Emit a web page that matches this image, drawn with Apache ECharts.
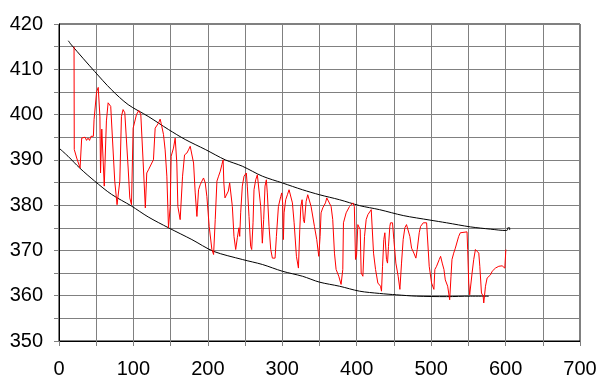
<!DOCTYPE html>
<html>
<head>
<meta charset="utf-8">
<script src="https://cdn.jsdelivr.net/npm/echarts@6/dist/echarts.min.js"></script>
<style>html,body{margin:0;padding:0;background:#fff}#c{width:604px;height:390px}</style>
</head>
<body>
<div id="c"></div>
<script>
// Red measured series
const redX = [20.2,20.5,23.8,28.3,30.5,33,35,37,39,41,43,46.2,47.1,50.5,52.7,55.0,55.8,57.5,58.3,60.8,63.7,66.0,68.2,69.5,74.9,78.0,79.0,81.7,83.9,86.1,88.4,92.9,95.1,97.4,99.6,104.1,107.2,109.9,113.0,116.0,117.9,120.2,124.7,126.9,129.2,133.6,135.9,137.2,140.4,142.6,144.9,147.1,149.4,150.7,153.8,156.1,158.3,159.7,162.8,166.0,168.7,171.8,174.0,176.3,178.5,180.8,183.0,185.3,187.5,189.7,192.0,194.2,196.5,198.7,201.8,205.4,207.7,209.9,212.2,214.4,216.7,218.9,220.5,221.5,223.0,224.8,227.5,229.3,231.5,232.9,235.1,237.4,239.6,241.8,242.8,244.1,246.3,248.6,251.7,253.0,255.3,257.5,258.9,260.7,262.0,264.3,266.5,268.8,271.0,272.4,273.2,275.0,276.8,278.6,279.9,282.2,284.5,286.7,290.3,292.1,294.8,297.9,299.3,300.5,301.5,302.4,304.6,306.9,309.1,311.4,313.6,315.9,319.0,321.7,323.5,324.9,326.6,328.4,329.7,332.0,334.2,335.5,338.7,343.2,346.3,349.0,350.8,352.1,354.4,358.0,359.8,362.4,365.6,367.8,370.1,372.3,375.9,379.0,381.3,382.2,385.8,390.3,394.8,396.8,398.4,399.8,401.5,403.8,404.7,406.0,408.3,410.5,412.7,415.0,417.2,419.5,420.8,422.6,425.3,428.4,432.0,433.3,434.7,436.4,437.8,440.0,441.4,442.7,444.5,445.4,448.1,449.9,452.6,455.7,458.0,460.2,462.4,464.7,466.9,469.2,471.4,473.7,476.8,479.5,481.3,484.0,485.8,489.4,493.9,496.1,497.4,500.6,503.7,505.0,507.3,510.9,512.7,514.9,517.2,519.0,522.2,524.9,526.7,528.0,530.3,532.5,534.7,537.0,539.2,541.5,548.2,549.1,550.5,551.8,553.6,555.0,557.2,559.5,560.9,564.0,565.4,567.6,569.9,570.7,573.0,575.2,577.5,579.7,582.0,584.2,586.4,588.7,590.9,593.2,595.4,597.7,599.0,600.4];
const redY = [415.0,392.3,390.4,388.2,394.8,394.5,395.0,394.3,394.8,394.3,395.2,395.2,398.9,405.0,406.0,399.5,387.1,396.8,397.1,384.2,398.6,402.6,402.9,401.8,385.3,380.1,380.1,385.3,399.6,401.1,400.4,388.2,381.6,380.1,397.0,400.0,400.9,400.0,389.7,379.4,387.1,387.8,389.3,390.0,397.0,398.1,399.0,398.1,395.6,392.2,386.4,375.0,379.7,390.8,392.6,394.8,389.3,379.7,376.8,386.4,391.1,391.5,392.2,393.0,392.6,389.3,382.7,377.5,383.4,384.5,385.3,386.0,384.9,381.9,375.3,370.2,369.1,376.8,385.3,386.4,387.5,389.0,390.0,384.9,381.6,381.2,383.1,384.9,384.6,379.7,373.1,370.2,372.8,375.0,373.1,378.3,384.2,386.4,387.1,384.2,377.5,370.9,370.2,376.1,383.4,385.6,386.7,386.4,379.7,374.6,371.6,376.8,384.2,385.6,382.7,375.3,370.2,368.3,368.3,373.1,379.7,381.9,382.7,380.5,372.4,378.3,381.2,382.3,383.4,383.8,380.5,376.1,368.7,366.1,374.6,379.7,381.2,376.8,376.1,380.8,382.3,382.7,379.7,375.3,372.4,368.7,373.1,378.3,379.4,380.5,381.6,381.2,379.7,376.8,369.4,365.8,364.3,362.5,365.8,376.1,378.3,379.7,380.5,379.7,368.0,369.0,375.7,376.1,374.6,365.0,364.3,373.1,376.8,377.9,378.3,379.0,379.0,369.4,365.8,362.8,362.1,361.0,366.5,372.4,373.9,368.0,367.2,370.9,375.3,376.1,376.1,372.4,367.2,364.3,361.4,367.2,372.4,375.0,375.7,376.1,373.1,370.5,369.4,368.3,370.2,373.9,375.3,376.1,376.1,376.4,366.5,362.8,361.4,365.8,366.5,368.0,368.7,367.2,365.8,363.5,362.1,359.1,364.3,368.0,369.4,370.5,370.9,373.1,373.9,374.1,374.1,370.2,362.8,360.2,360.2,365.0,368.0,370.2,370.2,369.4,366.5,360.6,359.9,358.4,362.1,363.9,364.3,364.6,365.4,365.7,366.1,366.1,366.5,366.8,366.6,366.8,366.1,370.2];
// Upper envelope
const upX = [12.5,16.6,48,70.4,92.9,119.8,147.1,169.5,196.5,223.4,246.3,273.2,300.2,327.1,349.9,376.8,403.8,430.7,462.5,498.4,520.8,552.7,579.7,600.4,602.5,603,605.5,605.5];
const upY = [416.3,415.4,409.5,405.5,402.2,399.6,396.7,394.5,392.3,390.0,388.6,386.4,384.9,383.4,382.3,381.2,379.9,379.0,377.7,376.7,376.1,375.2,374.7,374.4,374.5,375.0,375.0,374.5];
// Lower envelope
const loX = [0,12.1,27.8,48,70.4,97.4,119.8,147.1,178.5,207.7,246.3,273.2,300.2,327.1,349.9,376.8,403.8,430.7,453.5,480.4,520.8,552.7,577.5];
const loY = [392.6,390.8,388.2,385.3,382.4,379.8,377.4,375.0,372.4,369.8,368.0,366.9,365.4,364.3,363.0,362.1,361.0,360.5,360.2,359.9,359.8,359.9,359.9];
// Axis ticks
const xTicks = [0,100,200,300,400,500,600,700];
const yTicks = [350,360,370,380,390,400,410,420];

const pairs = (a,b) => a.map((v,i)=>[v,b[i]]);
const grey = '#808080';
const chart = echarts.init(document.getElementById('c'), null, {renderer:'canvas'});
chart.setOption({
  animation:false,
  backgroundColor:'#ffffff',
  grid:{left:59,right:24,top:24,bottom:49,show:true,borderColor:'#000',borderWidth:1,backgroundColor:'transparent'},
  xAxis:{type:'value',min:xTicks[0],max:xTicks[xTicks.length-1],interval:100,
    axisLine:{onZero:false,lineStyle:{color:'#000',width:1}},
    axisTick:{show:true,length:5,lineStyle:{color:grey}},
    minorTick:{show:true,splitNumber:2,length:5,lineStyle:{color:grey}},
    splitLine:{show:true,lineStyle:{color:grey,width:1}},
    minorSplitLine:{show:true,lineStyle:{color:grey,width:1}},
    axisLabel:{color:'#000',fontFamily:'Liberation Sans',fontSize:20,margin:18}},
  yAxis:{type:'value',min:yTicks[0],max:yTicks[yTicks.length-1],interval:10,
    axisLine:{show:true,onZero:false,lineStyle:{color:'#000',width:1}},
    axisTick:{show:true,length:5,lineStyle:{color:grey}},
    minorTick:{show:true,splitNumber:2,length:5,lineStyle:{color:grey}},
    splitLine:{show:true,lineStyle:{color:grey,width:1}},
    minorSplitLine:{show:true,lineStyle:{color:grey,width:1}},
    axisLabel:{color:'#000',fontFamily:'Liberation Sans',fontSize:20,margin:16}},
  series:[
    {type:'line',data:pairs(upX,upY),symbol:'none',smooth:0.3,lineStyle:{color:'#000',width:1},z:3},
    {type:'line',data:pairs(loX,loY),symbol:'none',smooth:0.3,lineStyle:{color:'#000',width:1},z:3},
    {type:'line',data:pairs(redX,redY),symbol:'none',lineStyle:{color:'#ff0000',width:1},z:4}
  ]
});
</script>
</body>
</html>
